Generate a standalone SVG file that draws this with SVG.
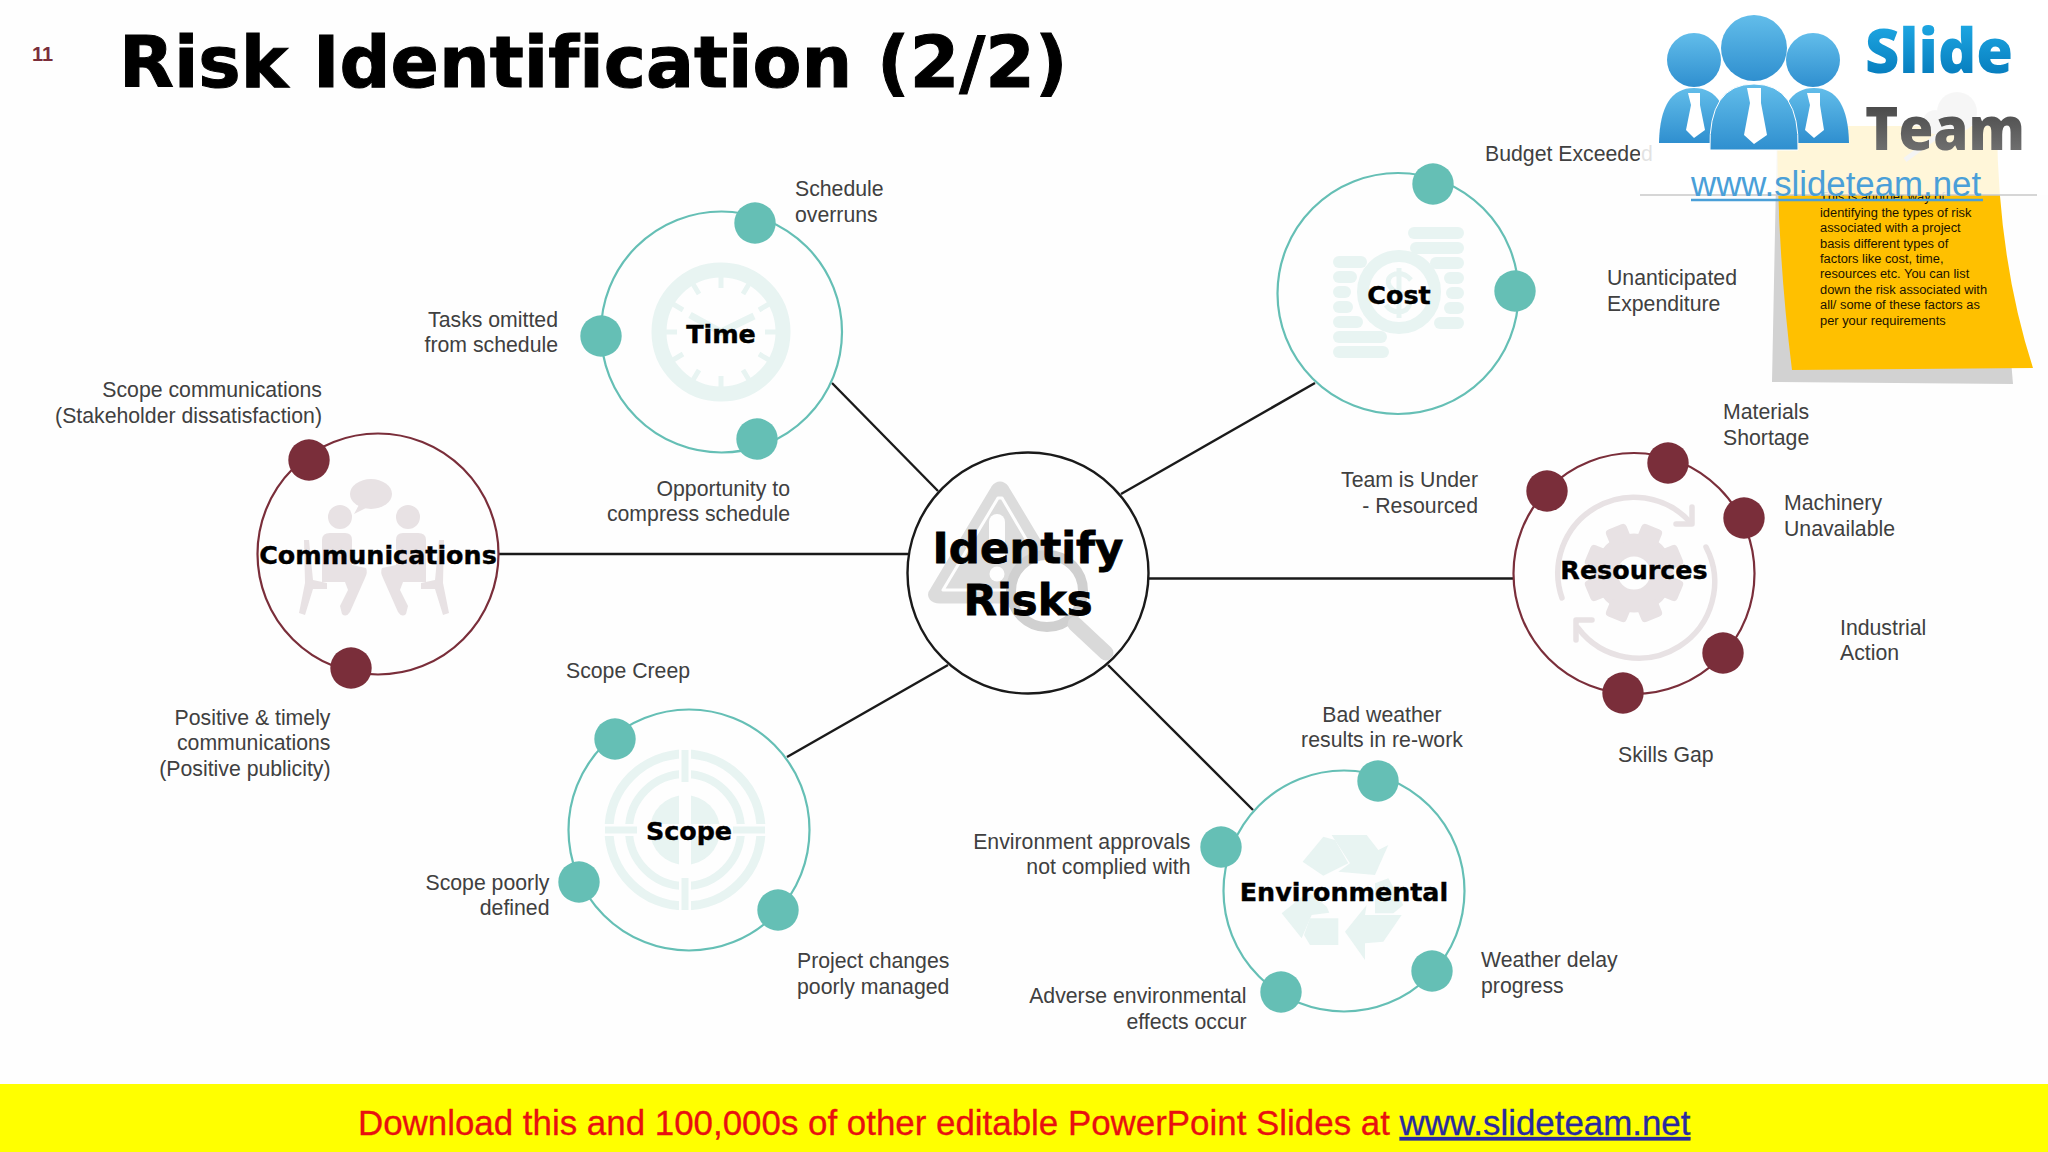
<svg xmlns="http://www.w3.org/2000/svg" width="2048" height="1152" viewBox="0 0 2048 1152">
<defs>
<style>
text{font-variant-ligatures:none}
.lb{font-family:"Liberation Sans",Arial,sans-serif;font-size:21.25px;fill:#404040}
.e{text-anchor:end}.m{text-anchor:middle}
.nt{font-family:"DejaVu Sans",Verdana,sans-serif;font-weight:700;font-size:25.4px;fill:#000;stroke:#000;stroke-width:.4px;text-anchor:middle}
.rt{fill:none;stroke:#65bfb5;stroke-width:2.2}
.rm{fill:none;stroke:#7a2e3a;stroke-width:2.2}
.dt{fill:#65bfb5}.dm{fill:#7a2e3a}
.it{fill:#e8f4f2}.its{fill:none;stroke:#e8f4f2}
.im{fill:#e8e2e4}.ims{fill:none;stroke:#e8e2e4}
.con{stroke:#1a1a1a;stroke-width:2.4;fill:none}
.nb{font-family:"Liberation Sans",Arial,sans-serif;font-size:12.85px;fill:#1a1200}
</style>
<linearGradient id="gb" x1="0" y1="0" x2="0" y2="1"><stop offset="0" stop-color="#62bdea"/><stop offset="1" stop-color="#2f8fcf"/></linearGradient>
<linearGradient id="gs" x1="0" y1="0" x2="0" y2="1"><stop offset="0" stop-color="#25b4ee"/><stop offset="1" stop-color="#0071b3"/></linearGradient>
<linearGradient id="gt" x1="0" y1="0" x2="0" y2="1"><stop offset="0" stop-color="#3a3a3a"/><stop offset="1" stop-color="#7d7d7d"/></linearGradient>
</defs>
<rect width="2048" height="1152" fill="#fefefe"/>
<text x="32" y="61" font-family="Liberation Sans,Arial,sans-serif" font-size="20" font-weight="700" fill="#7a2e3a">11</text>
<text x="119" y="87" font-family="DejaVu Sans,Verdana,sans-serif" font-size="71.300" font-weight="700" fill="#000" stroke="#000" stroke-width="1">Risk Identification (2/2)</text>

<g id="connectors">
<line class="con" x1="498" y1="554" x2="908" y2="554"/>
<line class="con" x1="832" y1="383" x2="938" y2="491"/>
<line class="con" x1="1315" y1="383" x2="1121" y2="494"/>
<line class="con" x1="1148" y1="578.500" x2="1513" y2="578.500"/>
<line class="con" x1="1253" y1="810" x2="1108" y2="665"/>
<line class="con" x1="787" y1="757" x2="948" y2="665"/>
</g>

<g id="node-center">
<circle cx="1028" cy="573" r="120.500" fill="#fefefe" stroke="#1a1a1a" stroke-width="2.400"/>
<path d="M997 490 L936 592 Q932 597 940 597 L1060 597 Q1067 597 1063 590 L1003 490 Q1000 486 997 490Z" fill="#dcdcdc" stroke="#dcdcdc" stroke-width="13" stroke-linejoin="round"/>
<path d="M998 498 L943 590 L1056 590 L1002 498Z" fill="none" stroke="#fefefe" stroke-width="3" stroke-linejoin="round"/>
<rect x="989" y="514" width="16" height="50" rx="8" fill="#fefefe"/>
<circle cx="997" cy="574" r="7.500" fill="#fefefe"/>
<circle cx="1047" cy="591" r="36" stroke="#d0d0d0" stroke-width="10" fill="#fefefe"/>
<line x1="1075" y1="624" x2="1106" y2="653" stroke="#d9d9d9" stroke-width="15" stroke-linecap="round"/>
<text class="nt" x="1028" y="563" style="font-size:43.5px;stroke-width:.8px">Identify</text>
<text class="nt" x="1028" y="615" style="font-size:43.5px;stroke-width:.8px">Risks</text>
</g>

<g id="node-time">
<circle class="rt" cx="721.500" cy="332" r="120.500"/>
<circle class="its" cx="721" cy="332" r="62" stroke-width="15"/>
<g class="its" stroke-width="5">
<path d="M721 276v12M721 388v-12M665 332h12M777 332h-12M693 284l6 10M749 380l-6-10M673 304l10 6M769 360l-10-6M749 284l-6 10M693 380l6-10M769 304l-10 6M673 360l10-6"/>
</g>
<path class="its" stroke-width="7" d="M690 315 L721 332 L754 316"/>
<circle class="dt" cx="755" cy="223" r="20.700"/>
<circle class="dt" cx="601" cy="336" r="20.700"/>
<circle class="dt" cx="757" cy="439" r="20.700"/>
<text class="nt" x="721" y="343">Time</text>
<text class="lb" x="795" y="196">Schedule</text><text class="lb" x="795" y="222">overruns</text>
<text class="lb e" x="558" y="327">Tasks omitted</text><text class="lb e" x="558" y="352">from schedule</text>
<text class="lb e" x="790" y="496">Opportunity to</text><text class="lb e" x="790" y="521">compress schedule</text>
</g>

<g id="node-cost">
<circle class="rt" cx="1398" cy="293.500" r="120.500"/>
<g class="it">
<rect x="1408" y="227" width="56" height="12" rx="6"/><rect x="1410" y="242" width="54" height="12" rx="6"/><rect x="1430" y="257" width="34" height="12" rx="6"/><rect x="1444" y="272" width="20" height="12" rx="6"/><rect x="1446" y="287" width="18" height="12" rx="6"/><rect x="1444" y="302" width="20" height="12" rx="6"/><rect x="1434" y="317" width="30" height="12" rx="6"/>
<rect x="1333" y="256" width="34" height="12" rx="6"/><rect x="1333" y="271" width="24" height="12" rx="6"/><rect x="1333" y="286" width="18" height="12" rx="6"/><rect x="1333" y="301" width="20" height="12" rx="6"/><rect x="1333" y="316" width="30" height="12" rx="6"/><rect x="1333" y="331" width="54" height="12" rx="6"/><rect x="1333" y="346" width="56" height="12" rx="6"/>
</g>
<circle class="its" cx="1399" cy="292" r="36" stroke-width="12"/>
<path class="its" stroke-width="5" d="M1411 280Q1404 272 1395 274Q1386 277 1389 285Q1392 291 1400 293Q1409 296 1410 303Q1408 312 1398 312Q1390 311 1386 305M1399 268V318"/>
<circle class="dt" cx="1433" cy="184" r="20.700"/>
<circle class="dt" cx="1515" cy="291" r="20.700"/>
<text class="nt" x="1399" y="304">Cost</text>
<text class="lb" x="1607" y="285">Unanticipated</text><text class="lb" x="1607" y="311">Expenditure</text>
</g>

<g id="node-communications">
<circle class="rm" cx="378" cy="554" r="120.500"/>
<g class="im">
<ellipse cx="371" cy="494" rx="21" ry="15"/><path d="M360 503l-6 11 14-7z"/>
<circle cx="340" cy="517" r="12"/><circle cx="408" cy="517" r="12"/>
<path d="M322 540 Q322 533 330 533 L345 533 Q352 533 352 540 L352 565 L366 568 Q368 572 365 578 L350 612 Q346 618 342 614 L340 606 L348 590 L345 582 L322 582Z"/>
<path d="M426 540 Q426 533 418 533 L403 533 Q396 533 396 540 L396 565 L382 568 Q380 572 383 578 L398 612 Q402 618 406 614 L408 606 L400 590 L403 582 L426 582Z"/>
<path d="M304 540l5 0 4 40 14 3 0 6-14 0-8 26-6-2 6-30z"/>
<path d="M444 540l-5 0-4 40-14 3 0 6 14 0 8 26 6-2-6-30z"/>
</g>
<circle class="dm" cx="309" cy="460" r="20.700"/>
<circle class="dm" cx="351" cy="668" r="20.700"/>
<text class="nt" x="378" y="564">Communications</text>
<text class="lb e" x="322" y="397">Scope communications</text><text class="lb e" x="322" y="423">(Stakeholder dissatisfaction)</text>
<text class="lb e" x="330.500" y="724.500">Positive &amp; timely</text><text class="lb e" x="330.500" y="749.500">communications</text><text class="lb e" x="330.500" y="775.500">(Positive publicity)</text>
</g>

<g id="node-scope">
<circle class="rt" cx="689" cy="830" r="120.500"/>
<circle class="its" cx="685" cy="830" r="76" stroke-width="9"/>
<circle class="its" cx="685" cy="830" r="56" stroke-width="8"/>
<circle class="it" cx="685" cy="830" r="35"/>
<path stroke="#fefefe" stroke-width="12" d="M685 748V912M603 830H767"/>
<path class="its" stroke-width="7" d="M685 750V782M685 878V910M605 830H637M733 830H765"/>
<circle class="dt" cx="615" cy="739" r="20.700"/>
<circle class="dt" cx="579" cy="882" r="20.700"/>
<circle class="dt" cx="778" cy="910" r="20.700"/>
<text class="nt" x="689" y="840">Scope</text>
<text class="lb" x="566" y="677.500">Scope Creep</text>
<text class="lb e" x="549.500" y="889.500">Scope poorly</text><text class="lb e" x="549.500" y="914.500">defined</text>
<text class="lb" x="797" y="967.500">Project changes</text><text class="lb" x="797" y="993.500">poorly managed</text>
</g>

<g id="node-environmental">
<circle class="rt" cx="1344" cy="891" r="120.500"/>
<g class="it" transform="translate(1210 760) scale(.3333)">
<path d="M278 305L340 230L375 240L415 310L340 347Z"/>
<path d="M365 225L470 225L505 270L535 255L495 345L385 335L420 310Z"/>
<path d="M405 515L470 435L465 465L575 465L520 545L465 550L465 600Z"/>
<path d="M495 370L535 355L580 435L550 460L495 460Z"/>
<path d="M282 525L300 475L385 475L385 555L300 555Z"/>
<path d="M215 460L295 395L350 440L358 458L305 465L275 535Z"/>
</g>
<circle class="dt" cx="1378" cy="781" r="20.700"/>
<circle class="dt" cx="1221" cy="847" r="20.700"/>
<circle class="dt" cx="1432" cy="971" r="20.700"/>
<circle class="dt" cx="1281" cy="992" r="20.700"/>
<text class="nt" x="1344" y="901">Environmental</text>
<text class="lb m" x="1382" y="721.500">Bad weather</text><text class="lb m" x="1382" y="746.500">results in re-work</text>
<text class="lb e" x="1190.500" y="848.500">Environment approvals</text><text class="lb e" x="1190.500" y="873.500">not complied with</text>
<text class="lb e" x="1246.500" y="1002.500">Adverse environmental</text><text class="lb e" x="1246.500" y="1028.500">effects occur</text>
<text class="lb" x="1481" y="966.500">Weather delay</text><text class="lb" x="1481" y="992.500">progress</text>
</g>

<g id="node-resources">
<circle class="rm" cx="1634" cy="573.500" r="120.500"/>
<circle class="ims" cx="1634" cy="573" r="28" stroke-width="23"/>
<g class="im">
<rect x="1623" y="523" width="22" height="18" rx="4" transform="rotate(22.500 1634 573)"/><rect x="1623" y="523" width="22" height="18" rx="4" transform="rotate(67.500 1634 573)"/><rect x="1623" y="523" width="22" height="18" rx="4" transform="rotate(112.500 1634 573)"/><rect x="1623" y="523" width="22" height="18" rx="4" transform="rotate(157.500 1634 573)"/><rect x="1623" y="523" width="22" height="18" rx="4" transform="rotate(202.500 1634 573)"/><rect x="1623" y="523" width="22" height="18" rx="4" transform="rotate(247.500 1634 573)"/><rect x="1623" y="523" width="22" height="18" rx="4" transform="rotate(292.500 1634 573)"/><rect x="1623" y="523" width="22" height="18" rx="4" transform="rotate(337.500 1634 573)"/>
</g>
<g class="ims" stroke-width="5.500" stroke-linecap="round" stroke-linejoin="round">
<path d="M1562 598 A76 76 0 0 1 1690 522"/><path d="M1692 507 L1692 524 L1676 524"/>
<path d="M1706 547 A76 76 0 0 1 1578 628"/><path d="M1576 640 L1576 620 L1592 620"/>
</g>
<circle class="dm" cx="1547" cy="491" r="20.700"/>
<circle class="dm" cx="1668" cy="463" r="20.700"/>
<circle class="dm" cx="1744" cy="518" r="20.700"/>
<circle class="dm" cx="1723" cy="653" r="20.700"/>
<circle class="dm" cx="1623" cy="693" r="20.700"/>
<text class="nt" x="1634" y="579">Resources</text>
<text class="lb" x="1723" y="418.500">Materials</text><text class="lb" x="1723" y="444.500">Shortage</text>
<text class="lb" x="1784" y="510">Machinery</text><text class="lb" x="1784" y="536">Unavailable</text>
<text class="lb" x="1840" y="634.500">Industrial</text><text class="lb" x="1840" y="660">Action</text>
<text class="lb" x="1618" y="761.500">Skills Gap</text>
<text class="lb e" x="1478" y="486.500">Team is Under</text><text class="lb e" x="1478" y="512.500">- Resourced</text>
</g>

<g id="node-cost-label">
<text class="lb" x="1485" y="160.500">Budget Exceeded</text>
</g>

<g id="sticky-note">
<path d="M1777 130 L1772 382 L2013 384 L2011 360 L1800 350Z" fill="#d2d2d2"/>
<path d="M1777 126 L1997 126 Q1998 260 2033 368 L1792 370 Q1777 250 1777 126Z" fill="#ffc000"/>
<circle cx="1957" cy="112" r="20" fill="#c4c4c4"/><circle cx="1935" cy="122" r="12" fill="#c4c4c4"/><path d="M1945 130L1905 160" stroke="#b5b5b5" stroke-width="5"/>
<text class="nb" x="1820" y="201">This is another way of</text>
<text class="nb" x="1820" y="217">identifying the types of risk</text>
<text class="nb" x="1820" y="232">associated with a project</text>
<text class="nb" x="1820" y="247.500">basis different types of</text>
<text class="nb" x="1820" y="263">factors like cost, time,</text>
<text class="nb" x="1820" y="278">resources etc. You can list</text>
<text class="nb" x="1820" y="293.500">down the risk associated with</text>
<text class="nb" x="1820" y="309">all/ some of these factors as</text>
<text class="nb" x="1820" y="324.500">per your requirements</text>
</g>

<g id="logo">
<rect x="1640" y="0" width="408" height="195" fill="#fff" opacity=".85"/>
<line x1="1640" y1="195" x2="2037" y2="195" stroke="#c8c8c8" stroke-width="1.500"/>
<g fill="url(#gb)">
<circle cx="1694" cy="60" r="27"/><circle cx="1813" cy="60" r="27"/>
<path d="M1659 143 Q1660 88 1694 88 Q1728 88 1729 143Z"/><path d="M1779 143 Q1780 88 1814 88 Q1848 88 1849 143Z"/>
<circle cx="1754" cy="48" r="33"/>
<path d="M1710 150 Q1708 84 1754 84 Q1800 84 1798 150Z" stroke="#fff" stroke-width="1"/>
</g>
<g fill="#fff">
<path d="M1688 93H1700V105L1705 130L1694 138L1686 130L1691 105Z"/>
<path d="M1747 88H1761V103L1767 135L1754 144L1744 135L1750 103Z"/>
<path d="M1807 93H1820V105L1824 130L1814 138L1805 130L1810 105Z"/>
</g>
<text x="1865" y="73" font-family="Open Sans,sans-serif" font-size="62" font-weight="800" fill="url(#gs)" textLength="148" lengthAdjust="spacingAndGlyphs">Slide</text>
<text x="1865" y="150" font-family="Open Sans,sans-serif" font-size="61" font-weight="800" fill="url(#gt)" textLength="160" lengthAdjust="spacingAndGlyphs">Team</text>
<text x="1691" y="195.500" font-family="Liberation Sans,sans-serif" font-size="34.800" fill="#4a9fd8">www.slideteam.net</text>
<line x1="1691" y1="200" x2="1983" y2="200" stroke="#4a9fd8" stroke-width="2.500"/>
</g>

<g id="footer">
<rect x="0" y="1084" width="2048" height="68" fill="#ffff00"/>
<text x="358" y="1135" font-family="Liberation Sans,sans-serif" font-size="34.900" fill="#e81010" stroke="#e81010" stroke-width=".3">Download this and 100,000s of other editable PowerPoint Slides at <tspan fill="#2a2aa0" stroke="#2a2aa0" text-decoration="underline">www.slideteam.net</tspan></text>
</g>
</svg>
